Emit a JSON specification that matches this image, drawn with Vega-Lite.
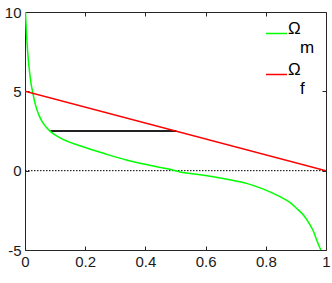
{
  "$schema": "https://vega.github.io/schema/vega-lite/v6.json",
  "width": 301,
  "height": 238,
  "autosize": "none",
  "padding": {"left": 25, "top": 12, "right": 6, "bottom": 33},
  "background": "white",
  "config": {
    "view": {"stroke": "#262626", "strokeWidth": 1},
    "axis": {
      "domain": false,
      "grid": false,
      "tickSize": -4,
      "tickColor": "#262626",
      "labelFont": "Liberation Sans",
      "labelFontSize": 15,
      "labelColor": "#1a1a1a",
      "title": null
    },
    "legend": {
      "orient": "none",
      "legendX": 240,
      "legendY": 10,
      "padding": 0,
      "symbolType": "stroke",
      "symbolSize": 441,
      "symbolStrokeWidth": 1.5,
      "labelFont": "Liberation Sans",
      "labelFontSize": 17,
      "labelColor": "#000",
      "labelLineHeight": 10,
      "labelBaseline": "alphabetic",
      "labelOffset": 0,
      "rowPadding": 4,
      "title": null
    }
  },
  "layer": [
    {
      "data": {"values": [{"x": 0, "y": 0}, {"x": 1, "y": 0}]},
      "mark": {"type": "line", "color": "#000", "strokeWidth": 1, "strokeDash": [1.5, 1.5]},
      "encoding": {
        "x": {"field": "x", "type": "quantitative", "scale": {"domain": [0, 1]},
              "axis": {"orient": "top", "labels": false, "values": [0.2, 0.4, 0.6, 0.8]}},
        "y": {"field": "y", "type": "quantitative", "scale": {"domain": [-5, 10]},
              "axis": {"orient": "right", "labels": false, "values": [-5, 0, 5, 10]}}
      }
    },
    {
      "data": {"values": [{"x": 0.084, "y": 2.5}, {"x": 0.503, "y": 2.5}]},
      "mark": {"type": "line", "color": "#222", "strokeWidth": 2},
      "encoding": {
        "x": {"field": "x", "type": "quantitative", "scale": {"domain": [0, 1]}, "axis": null},
        "y": {"field": "y", "type": "quantitative", "scale": {"domain": [-5, 10]}, "axis": null}
      }
    },
    {
      "data": {"values": [
        {"series": "Ωm", "x": 0.0015, "y": 10.0},
        {"series": "Ωm", "x": 0.004, "y": 9.0},
        {"series": "Ωm", "x": 0.007, "y": 8.0},
        {"series": "Ωm", "x": 0.011, "y": 7.0},
        {"series": "Ωm", "x": 0.015, "y": 6.25},
        {"series": "Ωm", "x": 0.02, "y": 5.5},
        {"series": "Ωm", "x": 0.026, "y": 4.9},
        {"series": "Ωm", "x": 0.032, "y": 4.35},
        {"series": "Ωm", "x": 0.039, "y": 3.88},
        {"series": "Ωm", "x": 0.047, "y": 3.47},
        {"series": "Ωm", "x": 0.056, "y": 3.12},
        {"series": "Ωm", "x": 0.07, "y": 2.75},
        {"series": "Ωm", "x": 0.084, "y": 2.48},
        {"series": "Ωm", "x": 0.1, "y": 2.25},
        {"series": "Ωm", "x": 0.115, "y": 2.08},
        {"series": "Ωm", "x": 0.15, "y": 1.78},
        {"series": "Ωm", "x": 0.19, "y": 1.52},
        {"series": "Ωm", "x": 0.226, "y": 1.3},
        {"series": "Ωm", "x": 0.28, "y": 0.98},
        {"series": "Ωm", "x": 0.337, "y": 0.67},
        {"series": "Ωm", "x": 0.4, "y": 0.4},
        {"series": "Ωm", "x": 0.45, "y": 0.2},
        {"series": "Ωm", "x": 0.481, "y": 0.09},
        {"series": "Ωm", "x": 0.514, "y": -0.08},
        {"series": "Ωm", "x": 0.57, "y": -0.22},
        {"series": "Ωm", "x": 0.625, "y": -0.38},
        {"series": "Ωm", "x": 0.68, "y": -0.57},
        {"series": "Ωm", "x": 0.736, "y": -0.8},
        {"series": "Ωm", "x": 0.79, "y": -1.15},
        {"series": "Ωm", "x": 0.847, "y": -1.64},
        {"series": "Ωm", "x": 0.88, "y": -2.0},
        {"series": "Ωm", "x": 0.902, "y": -2.37},
        {"series": "Ωm", "x": 0.925, "y": -2.8},
        {"series": "Ωm", "x": 0.947, "y": -3.42},
        {"series": "Ωm", "x": 0.96, "y": -3.9},
        {"series": "Ωm", "x": 0.969, "y": -4.37},
        {"series": "Ωm", "x": 0.977, "y": -4.75},
        {"series": "Ωm", "x": 0.983, "y": -5.0},
        {"series": "Ωf", "x": 0, "y": 5},
        {"series": "Ωf", "x": 1, "y": 0}
      ]},
      "mark": {"type": "line", "strokeWidth": 1.5, "interpolate": "monotone", "clip": true},
      "encoding": {
        "x": {"field": "x", "type": "quantitative", "scale": {"domain": [0, 1]},
              "axis": {"values": [0, 0.2, 0.4, 0.6, 0.8, 1], "format": "~g", "labelPadding": 8, "labelFlush": false}},
        "y": {"field": "y", "type": "quantitative", "scale": {"domain": [-5, 10]},
              "axis": {"values": [-5, 0, 5, 10], "labelPadding": 8, "labelExpr": "'' + datum.value"}},
        "color": {"field": "series", "type": "nominal",
                  "scale": {"domain": ["Ωm", "Ωf"], "range": ["#00ff00", "#ff0000"]},
                  "legend": {"labelExpr": "['Ω', '\u2800' + slice(datum.label, 1)]"}}
      }
    }
  ],
  "resolve": {"axis": {"x": "independent", "y": "independent"}}
}
